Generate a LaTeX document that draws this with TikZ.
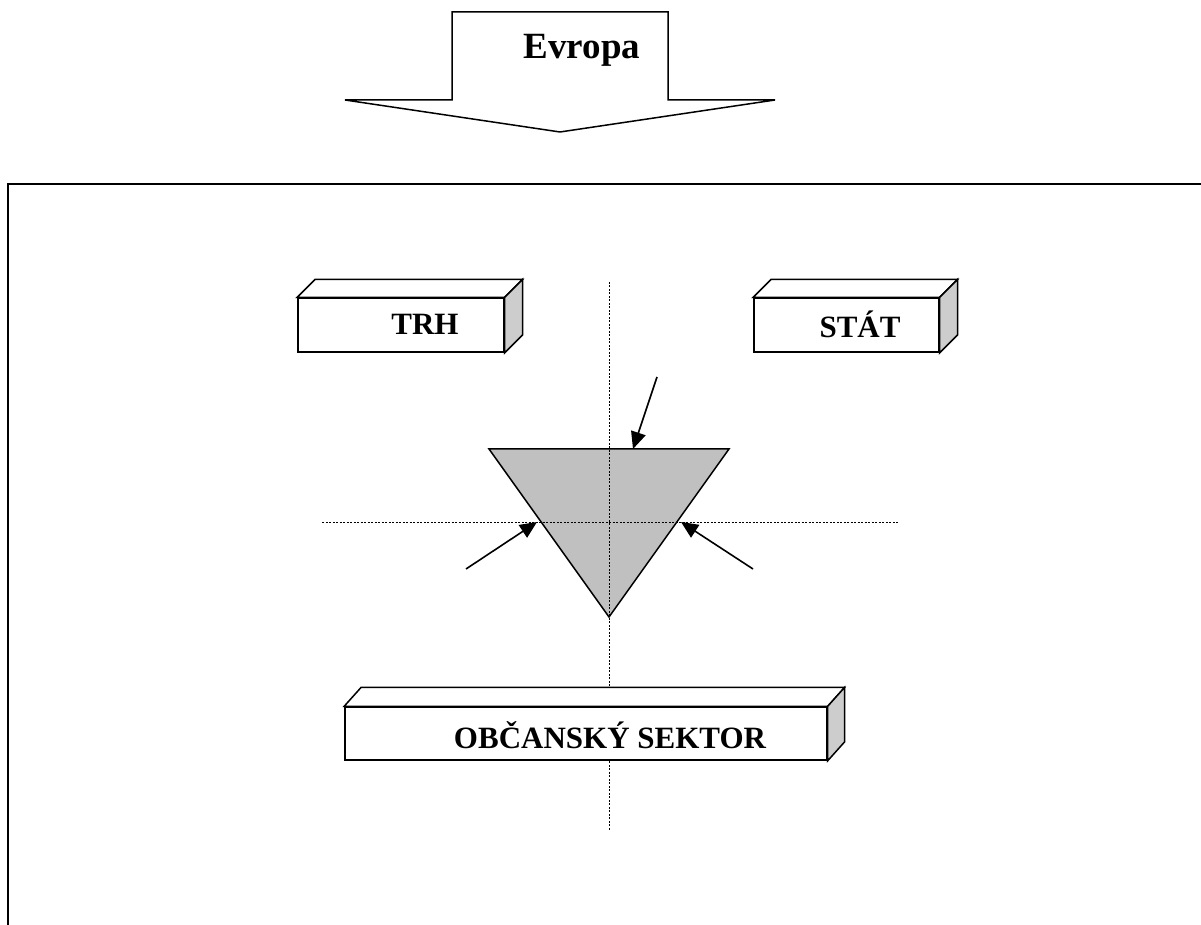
\documentclass[tikz,border=0pt]{standalone}
\usepackage{fontspec}
\setmainfont{Liberation Serif}
\usetikzlibrary{arrows.meta}
\definecolor{sidegray}{RGB}{205,205,205}
\definecolor{trigray}{RGB}{192,192,192}
\begin{document}
\begin{tikzpicture}[x=1pt,y=1pt,
  frontface/.style={draw,line width=1.5pt,fill=white,rectangle,inner sep=0pt},
  faceline/.style={draw,line width=1.5pt,line join=miter},
  lbl/.style={font=\fontsize{31}{31}\selectfont\bfseries,inner sep=0pt},
  guide/.style={line width=0.8pt,dash pattern=on 2pt off 1.5pt},
  push/.style={line width=1.6pt,-{Triangle[length=17pt,width=15pt]}}]
\useasboundingbox (0,0) rectangle (1201,925);
% outer frame
\coordinate (fb) at (8,0);
\coordinate (fc) at (8,741);
\coordinate (fr) at (1201,741);
\draw[line width=2.6pt] (fb) -- (fc) -- (fr);
% Evropa arrow
\draw[line width=1.5pt,line join=miter] (452,913) -- (668,913) -- (668,825) -- (775,825) -- (560,793) -- (345,825) -- (452,825) -- cycle;
\node[font=\fontsize{37}{37}\selectfont\bfseries,inner sep=0pt] (evropa) at (582,875) {Evropa};
% guides
\coordinate (vt) at (609,643);
\coordinate (vb) at (609,94);
\coordinate (hl) at (322,403);
\coordinate (hr) at (898,403);
% triangle
\coordinate (ta) at (489,476);
\coordinate (tb) at (729,476);
\coordinate (tc) at (609,308);
\fill[trigray] (ta) -- (tb) -- (tc) -- cycle;
\draw[guide] (vt) -- (vb);
\draw[guide] (hl) -- (hr);
\draw[line width=1.5pt,line join=miter] (ta) -- (tb) -- (tc) -- cycle;
% boxes
\foreach \nm/\x/\y/\w/\h/\dx/\dy in {trh/297/572/206/54/18/18, stat/753/572/185/54/18/18, obc/344/164/482/53/17/19}{
  \node[frontface,minimum width=\w pt,minimum height=\h pt,anchor=south west] (\nm) at (\x,\y) {};
  \draw[faceline,fill=white] (\nm.north west) -- ++(\dx,\dy) -- ([shift={(\dx,\dy)}]\nm.north east) -- (\nm.north east) -- cycle;
  \draw[faceline,fill=sidegray] (\nm.north east) -- ++(\dx,\dy) -- ([shift={(\dx,\dy)}]\nm.south east) -- (\nm.south east) -- cycle;
}
\node[lbl] (trhl) at (425,601) {TRH};
\node[lbl] (statl) at (860,601) {STÁT};
\node[lbl] (obcl) at (610,190) {OBČANSKÝ SEKTOR};
% arrows
\coordinate (a1) at (657,548);
\coordinate (a1e) at (633,476);
\coordinate (a2) at (466,356);
\coordinate (a2e) at (537,403);
\coordinate (a3) at (753,356);
\coordinate (a3e) at (681,403);
\draw[push] (a1) -- (a1e);
\draw[push] (a2) -- (a2e);
\draw[push] (a3) -- (a3e);
\end{tikzpicture}
\end{document}
